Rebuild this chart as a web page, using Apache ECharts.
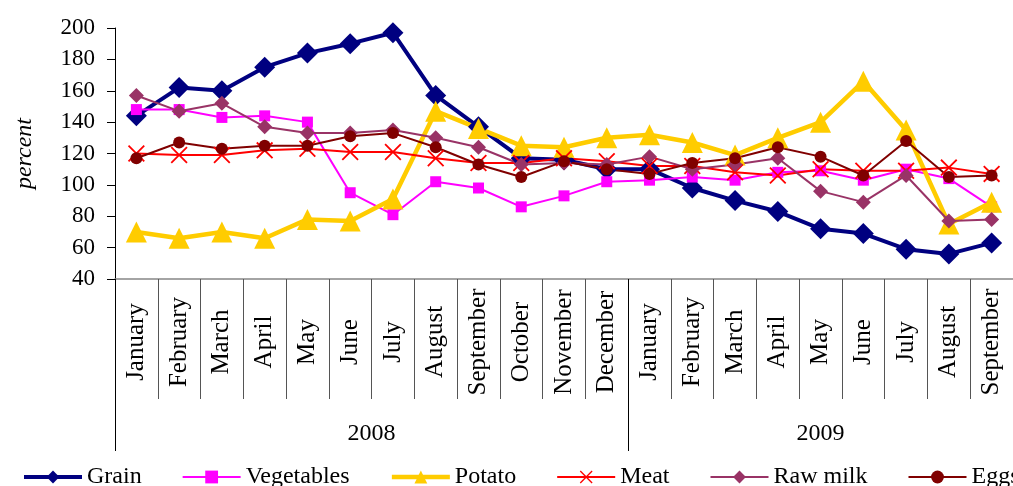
<!DOCTYPE html>
<html>
<head>
<meta charset="utf-8">
<script src="https://cdn.jsdelivr.net/npm/echarts@6/dist/echarts.min.js"></script>
<style>
  html, body { margin: 0; padding: 0; background: #fff; }
  #chart { width: 1013px; height: 486px; }
</style>
</head>
<body>
<div id="chart"></div>
<script>
// Monthly price indices, January 2008 – September 2009
const months = ['January', 'February', 'March', 'April', 'May', 'June', 'July', 'August',
  'September', 'October', 'November', 'December',
  'January', 'February', 'March', 'April', 'May', 'June', 'July', 'August', 'September'];
const years = ['2008', '2009'];
const yearStarts = [0, 12, 21];      // month index where each year block begins / ends
const yearCenters = [6, 16.5];       // middle of each year block

const grain = [144, 162, 160, 175, 184, 190, 197, 157, 137, 117, 116, 110, 110, 98, 90, 83, 72, 69, 59, 56, 63];
const vegetables = [148, 148, 143, 144, 140, 95, 81, 102, 98, 86, 93, 102, 103, 105, 103, 108, 109, 103, 110, 104, 86];
const potato = [70, 66, 70, 66, 78, 77, 91, 147, 136, 125, 124, 130, 132, 127, 119, 130, 140, 166, 135, 75, 89];
const meat = [120, 119, 119, 122, 123, 121, 121, 117, 114, 114, 117, 115, 112, 112, 108, 106, 110, 109, 109, 111, 107];
const rawMilk = [157, 147, 152, 137, 133, 133, 135, 130, 124, 113, 114, 113, 118, 110, 113, 117, 96, 89, 106, 77, 78];
const eggs = [117, 127, 123, 125, 125, 131, 133, 124, 113, 105, 115, 110, 107, 114, 117, 124, 118, 106, 128, 105, 106];

const FONT = '"Liberation Serif", "Times New Roman", serif';
const CROSS = 'path://M0,1.5L1.5,0L10,8.5L18.5,0L20,1.5L11.5,10L20,18.5L18.5,20L10,11.5L1.5,20L0,18.5L8.5,10Z';

const styles = [
  { name: 'Grain', data: grain, color: '#000080', width: 4, symbol: 'diamond', size: 21 },
  { name: 'Vegetables', data: vegetables, color: '#ff00ff', width: 2, symbol: 'rect', size: 11 },
  { name: 'Potato', data: potato, color: '#ffcc00', width: 4.5, symbol: 'triangle', size: 21 },
  { name: 'Meat', data: meat, color: '#ff0000', width: 2, symbol: CROSS, size: 17 },
  { name: 'Raw milk', data: rawMilk, color: '#993366', width: 2, symbol: 'diamond', size: 15 },
  { name: 'Eggs', data: eggs, color: '#800000', width: 2, symbol: 'circle', size: 12 }
];

const chart = echarts.init(document.getElementById('chart'), null, { renderer: 'canvas' });
chart.setOption({
  backgroundColor: '#ffffff',
  textStyle: { fontFamily: FONT },
  grid: { left: 115, right: -7, top: 28, bottom: 207, containLabel: false },
  legend: {
    left: 22, top: 465, width: 1400, padding: 0,
    itemWidth: 58, itemHeight: 16, itemGap: 40,
    textStyle: { fontFamily: FONT, fontSize: 24, color: '#000' },
    data: styles.map(s => ({ name: s.name, lineStyle: { width: s.width, color: s.color } }))
  },
  xAxis: [
    {
      type: 'category', data: months, position: 'bottom', boundaryGap: true,
      axisLine: { lineStyle: { color: '#868686', width: 1.5 } },
      axisTick: { show: true, interval: 0, length: 120, lineStyle: { color: '#555', width: 1 } },
      axisLabel: {
        interval: 0, rotate: 90, align: 'center', margin: 63,
        fontFamily: FONT, fontSize: 25, color: '#000'
      },
      splitLine: { show: false }
    },
    {
      type: 'value', position: 'bottom', min: 0, max: 21,
      axisLine: { show: false },
      axisTick: { show: true, customValues: yearStarts, length: 172, lineStyle: { color: '#000', width: 1 } },
      axisLabel: {
        customValues: yearCenters, margin: 143,
        formatter: v => years[yearCenters.indexOf(v)] || '',
        fontFamily: FONT, fontSize: 24, color: '#000'
      },
      splitLine: { show: false }
    }
  ],
  yAxis: {
    type: 'value', min: 40, max: 200, interval: 20,
    name: 'percent', nameLocation: 'middle', nameRotate: 90, nameGap: 78,
    nameTextStyle: { fontFamily: FONT, fontSize: 24, fontStyle: 'italic', color: '#000' },
    axisLine: { show: true, lineStyle: { color: '#000', width: 1 } },
    axisTick: { show: true, length: 8, lineStyle: { color: '#000' } },
    axisLabel: { margin: 20, fontFamily: FONT, fontSize: 23, color: '#000' },
    splitLine: { show: false }
  },
  series: styles.map(s => ({
    name: s.name, type: 'line', data: s.data,
    xAxisIndex: 0, yAxisIndex: 0,
    symbol: s.symbol, symbolSize: s.size,
    showAllSymbol: true,
    lineStyle: { color: s.color, width: s.width },
    itemStyle: { color: s.color },
    animation: false
  }))
});
</script>
</body>
</html>
